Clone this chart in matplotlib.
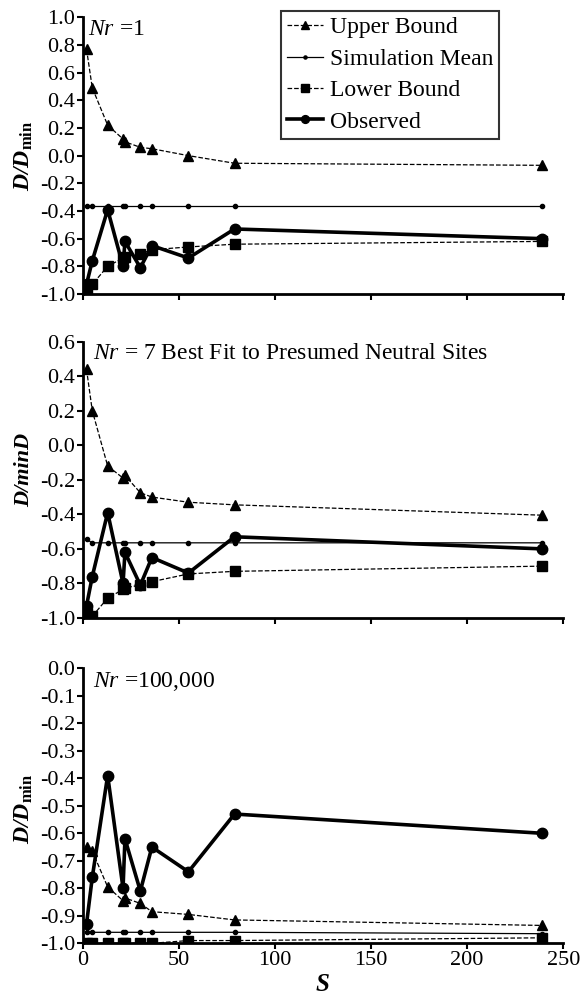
import numpy as np
import matplotlib
matplotlib.use('Agg')
import matplotlib.pyplot as plt

plt.rcParams['font.family'] = 'Liberation Serif'
plt.rcParams['mathtext.fontset'] = 'custom'
plt.rcParams['mathtext.rm'] = 'Liberation Serif'
plt.rcParams['mathtext.it'] = 'Liberation Serif:italic'
plt.rcParams['mathtext.bf'] = 'Liberation Serif:bold'
plt.rcParams['mathtext.bfit'] = 'Liberation Serif:italic:bold'
plt.rcParams['axes.unicode_minus'] = False

# number of segregating sites
S = [2, 5, 13, 21, 22, 30, 36, 55, 79, 239]
observed = [-0.93, -0.76, -0.39, -0.80, -0.62, -0.81, -0.65, -0.74, -0.53, -0.60]

# Nr = 1
upper1 = [0.77, 0.49, 0.22, 0.12, 0.10, 0.06, 0.05, 0.00, -0.055, -0.07]
mean1 = [-0.365, -0.365, -0.365, -0.365, -0.365, -0.365, -0.365, -0.365, -0.365, -0.365]
lower1 = [-1.0, -0.93, -0.80, -0.74, -0.73, -0.71, -0.68, -0.66, -0.64, -0.62]

# Nr = 7
upper2 = [0.44, 0.20, -0.12, -0.19, -0.175, -0.275, -0.30, -0.33, -0.345, -0.405]
mean2 = [-0.545, -0.565, -0.565, -0.565, -0.565, -0.565, -0.565, -0.565, -0.565, -0.565]
lower2 = [-0.97, -0.99, -0.885, -0.835, -0.825, -0.81, -0.79, -0.745, -0.73, -0.70]

# Nr = 100,000
upper3 = [-0.65, -0.665, -0.795, -0.845, -0.835, -0.855, -0.885, -0.895, -0.915, -0.935]
mean3 = [-0.96, -0.96, -0.96, -0.96, -0.96, -0.96, -0.96, -0.96, -0.96, -0.965]
lower3 = [-1.0, -1.0, -1.0, -1.0, -1.0, -1.0, -1.0, -0.99, -0.99, -0.98]

panels = [
    (upper1, mean1, lower1, (-1.0, 1.0), 0.2, r'$\mathit{Nr}$ =1', 'min', 0.011, 0.5),
    (upper2, mean2, lower2, (-1.0, 0.6), 0.2, r'$\mathit{Nr}$ = 7 Best Fit to Presumed Neutral Sites', 'minD', 0.021, 0.535),
    (upper3, mean3, lower3, (-1.0, 0.0), 0.1, r'$\mathit{Nr}$ =100,000', 'min', 0.021, 0.49),
]

fig = plt.figure(figsize=(5.83, 9.98), dpi=100)
boxes = [(0.1418, 0.7054, 0.8244, 0.2773),
         (0.1418, 0.3808, 0.8244, 0.2769),
         (0.1418, 0.0548, 0.8244, 0.2756)]

fs = 16
for i, (up, mn, lo, ylim, step, title, lab, tx, ly) in enumerate(panels):
    ax = fig.add_axes(boxes[i])
    ax.plot(S, up, ls='--', lw=0.9, color='k', marker='^', ms=7, label='Upper Bound')
    ax.plot(S, mn, ls='-', lw=0.9, color='k', marker='o', ms=3, label='Simulation Mean')
    ax.plot(S, lo, ls='--', lw=0.9, color='k', marker='s', ms=7, label='Lower Bound')
    ax.plot(S, observed, ls='-', lw=2.6, color='k', marker='o', ms=7.5, label='Observed')
    ax.set_xlim(0, 250)
    ax.set_ylim(*ylim)
    ax.set_xticks(np.arange(0, 251, 50))
    yt = np.round(np.arange(ylim[0], ylim[1] + step / 2, step), 2) + 0.0
    ax.set_yticks(yt)
    ax.set_yticklabels(['%.1f' % v if abs(v) > 1e-9 else '0.0' for v in yt])
    for s in ['top', 'right']:
        ax.spines[s].set_visible(False)
    for s in ['left', 'bottom']:
        ax.spines[s].set_linewidth(2)
    ax.tick_params(direction='out', length=4.5, width=1.5, labelsize=fs, pad=1)
    if i < 2:
        ax.tick_params(axis='x', labelbottom=False)
    ax.text(tx, 0.995, title, transform=ax.transAxes, fontsize=17,
            va='top', ha='left')
    if lab == 'min':
        ax.set_ylabel(r'$\mathbfit{D/D}_{\mathbf{min}}$', fontsize=17)
    else:
        ax.set_ylabel('D/minD', fontsize=16, fontweight='bold', style='italic')
    ax.yaxis.set_label_coords(-0.1, ly)
    if i == 0:
        leg = ax.legend(loc='upper right', bbox_to_anchor=(0.866, 1.023), borderaxespad=0,
                        fontsize=17, frameon=True, fancybox=False, edgecolor='k',
                        handlelength=1.5, handletextpad=0.3, labelspacing=0.42,
                        borderpad=0.25, markerscale=0.75)
        leg.get_frame().set_linewidth(1.5)
    if i == 2:
        ax.set_xlabel('S', fontsize=18, fontweight='bold', style='italic', labelpad=2)

plt.savefig('out.png', dpi=100)
